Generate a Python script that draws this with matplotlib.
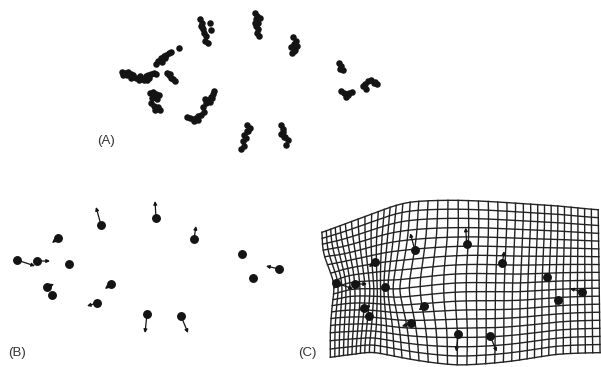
import numpy as np
import matplotlib
matplotlib.use('Agg')
import matplotlib.pyplot as plt

# consensus landmark coordinates (16 landmarks)
lm_x = [-1.11, -0.91, -0.70, -0.59, -0.27, 0.28, 0.66, 1.14, 1.51, 1.25,
        -0.81, -0.76, -0.17, -0.31, 0.19, 0.53]
lm_y = [0.09, 0.08, 0.31, 0.05, 0.44, 0.51, 0.30, 0.15, 0.00, -0.09,
        -0.18, -0.26, -0.15, -0.34, -0.45, -0.47]

# shape change vectors at each landmark
vec_x = [0.18, 0.13, -0.06, 0.0, -0.05, -0.01, 0.02, 0.0, -0.13, 0.0,
         0.07, 0.0, -0.06, -0.10, -0.02, 0.07]
vec_y = [-0.06, 0.0, -0.05, 0.0, 0.18, 0.17, 0.13, 0.0, 0.03, 0.0,
         0.03, 0.0, -0.05, -0.03, -0.19, -0.17]

# superimposed specimens: offsets (x0.01) from the consensus, per landmark
cloud_dx = [[-1, 2, 5, 8, 11, 14, 17, 0, 4, 9],
            [-2, 1, 4, 7, 10, 13, 15, 5, 2, 8],
            [-6, -4, -1, 2, 5, 8, 10, 3, 18, 0],
            [-5, -3, -1, 1, 3, -2],
            [-2, 0, -1, 1, 2, 4, 3, 6, 8, 9, 0],
            [1, 3, 2, 4, 2, 4, 3, 5, 6, 1],
            [3, 6, 4, 1, 5, 2, 7, 4],
            [4, 6, 8, 5],
            [-8, -5, -2, 1, 4, 7, -4, 5],
            [-5, -2, 1, 4, 7, 0, 3],
            [-1, 2, 5, 8, 1, 6, 3],
            [-5, -2, 1, 4, -1, 2],
            [-9, -6, -4, -1, 1, 3, -2, -7, 0],
            [-12, -9, -6, -3, 0, 3, 6, -5, -1],
            [2, 5, 1, -2, 0, -3, -2, -5, 3],
            [3, 6, 4, 8, 11, 9, 6, 7]]
cloud_dy = [[0, -1, 0, -2, -3, -5, -7, -3, -3, -5],
            [-3, -5, -3, -2, -1, 0, -1, -6, -6, -4],
            [-15, -12, -10, -8, -7, -5, -4, -10, -1, -13],
            [3, 1, -1, -2, -4, 2],
            [12, 9, 6, 3, 0, -3, -7, -9, 9, 2, 5],
            [11, 8, 5, 2, -1, -4, -7, -10, 6, 2],
            [10, 7, 4, 1, -1, -4, 2, -2],
            [2, -1, -4, -3],
            [-4, -2, 1, 2, -1, -2, -6, 0],
            [1, -1, -2, -1, 0, -4, -3],
            [8, 9, 7, 6, 4, 3, 6],
            [7, 5, 3, 1, 1, 4],
            [-7, -4, -1, 2, 4, 7, -3, 0, 1],
            [3, 2, 1, 2, 4, 5, 7, -1, 0],
            [7, 4, 1, -2, -5, -8, -12, -15, 1],
            [9, 5, 1, -2, -5, -9, 2, -2]]

# deformation grid: grid cell indices -> positions (control points)
n_cols, n_rows = 38, 18
grid_u = [0, 5, 10, 15, 20, 26, 32, 38,
          0, 5, 10, 15, 20, 26, 32, 38,
          0, 0, 0, 0, 38,
          4, 8, 10, 12, 15, 20, 26, 32,
          10, 20, 10, 20]
grid_v = [0, 0, 0, 0, 0, 0, 0, 0,
          18, 18, 18, 18, 18, 18, 18, 18,
          4, 7, 11, 15, 9,
          9, 9, 9, 9, 9, 9, 9, 9,
          4, 4, 14, 14]
grid_x = [-1.26, -1.01, -0.66, -0.32, 0.19, 0.80, 1.25, 1.68,
          -1.17, -0.94, -0.70, -0.32, 0.18, 0.76, 1.23, 1.70,
          -1.23, -1.14, -1.15, -1.17, 1.69,
          -0.96, -0.75, -0.67, -0.60, -0.43, 0.16, 0.77, 1.23,
          -0.68, 0.19, -0.68, 0.18]
grid_y = [0.63, 0.72, 0.85, 0.95, 0.97, 0.94, 0.91, 0.87,
          -0.70, -0.67, -0.65, -0.72, -0.78, -0.74, -0.67, -0.65,
          0.37, 0.11, -0.15, -0.44, 0.12,
          0.02, 0.03, 0.03, 0.03, 0.03, 0.09, 0.09, 0.11,
          0.49, 0.58, -0.35, -0.39]


def kern(r):
    r = np.where(r > 0, r, 1.0)
    return np.where(r == 1.0, 0.0, r ** 2 * np.log(r))


def tps(src, dst, pts):
    n = len(src)
    K = kern(np.linalg.norm(src[:, None] - src[None], axis=2))
    P = np.hstack([np.ones((n, 1)), src])
    L = np.zeros((n + 3, n + 3))
    L[:n, :n] = K
    L[:n, n:] = P
    L[n:, :n] = P.T
    W = np.linalg.solve(L, np.vstack([dst, np.zeros((3, 2))]))
    Kp = kern(np.linalg.norm(pts[:, None] - src[None], axis=2))
    return Kp @ W[:n] + np.hstack([np.ones((len(pts), 1)), pts]) @ W[n:]


ink = '#141414'
fig = plt.figure(figsize=(6.01, 3.67), dpi=100)

# (A) superimposed landmarks
axA = fig.add_axes([90 / 601, 207 / 367, 310 / 601, 160 / 367])
for i in range(len(lm_x)):
    xs = lm_x[i] + np.array(cloud_dx[i]) / 100
    ys = lm_y[i] + np.array(cloud_dy[i]) / 100
    axA.scatter(xs, ys, s=22, color=ink, linewidths=0)
axA.set_xlim(-1.46, 1.827)
axA.set_ylim(-0.696, 0.732)
axA.axis('off')

# (B) consensus with vectors
axB = fig.add_axes([0, 0, 300 / 601, 187 / 367])
axB.set_xlim(-1.28, 1.72)
axB.set_ylim(-0.98, 0.89)

# (C) deformation grid
axC = fig.add_axes([300 / 601, 0, 301 / 601, 177 / 367])
axC.set_xlim(-1.493, 1.710)
axC.set_ylim(-0.803, 1.080)

src = np.column_stack([grid_u, grid_v]).astype(float)
dst = np.column_stack([grid_x, grid_y])
t = np.linspace(0, 1, 300)
for v in range(n_rows + 1):
    p = tps(src, dst, np.column_stack([t * n_cols, np.full_like(t, v)]))
    axC.plot(p[:, 0], p[:, 1], color='#222222', lw=1.0)
for u in range(n_cols + 1):
    p = tps(src, dst, np.column_stack([np.full_like(t, u), t * n_rows]))
    axC.plot(p[:, 0], p[:, 1], color='#222222', lw=1.0)

for ax in (axB, axC):
    for x, y, dx, dy in zip(lm_x, lm_y, vec_x, vec_y):
        if dx != 0 or dy != 0:
            ax.annotate('', xy=(x + dx, y + dy), xytext=(x, y),
                        arrowprops=dict(arrowstyle='-|>', lw=0.9, color=ink,
                                        mutation_scale=5, shrinkA=0, shrinkB=0),
                        zorder=3)
    ax.plot(lm_x, lm_y, 'o', color=ink, ms=5.4, zorder=4)
    ax.axis('off')

lab = dict(family='Liberation Sans', fontsize=9.5, color='#333333',
           ha='center', va='center')
fig.text(106 / 601, 1 - 141 / 367, '(A)', **lab)
fig.text(17 / 601, 1 - 353 / 367, '(B)', **lab)
fig.text(307 / 601, 1 - 353 / 367, '(C)', **lab)

fig.savefig('out.png', dpi=100, facecolor='white')
